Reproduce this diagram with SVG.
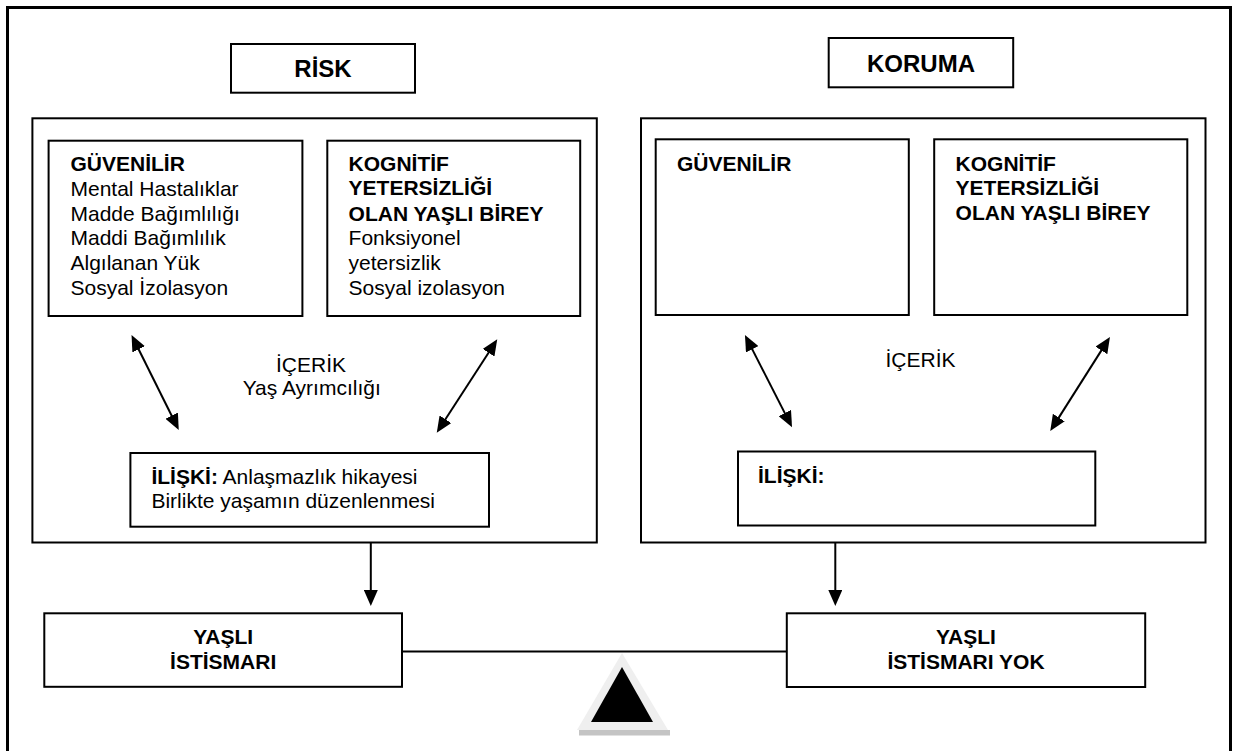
<svg xmlns="http://www.w3.org/2000/svg" width="1233" height="751" viewBox="0 0 1233 751">
<defs>
<style>
.box{fill:#fff;stroke:#000;stroke-width:2}
.frame{fill:none;stroke:#000;stroke-width:3}
.t{font-family:"Liberation Sans",Arial,sans-serif;font-size:21px;fill:#000}
.b{font-weight:bold}
.h{font-family:"Liberation Sans",Arial,sans-serif;font-size:24px;font-weight:bold;fill:#000}
.c{text-anchor:middle}
.ln{stroke:#000;stroke-width:2;fill:none}
</style>
<marker id="ah" viewBox="0 0 16 14" refX="6" refY="7" markerWidth="16" markerHeight="14" markerUnits="userSpaceOnUse" orient="auto-start-reverse">
<path d="M0,0 L16,7 L0,14 z" fill="#000"/>
</marker>
</defs>
<rect width="1233" height="751" fill="#fff"/>
<rect class="frame" x="7.5" y="7.5" width="1223" height="800"/>

<g id="risk-title">
<rect class="box" x="231" y="44" width="184" height="48.7"/>
<text class="h c" x="323" y="77">RİSK</text>
</g>
<g id="koruma-title">
<rect class="box" x="828.7" y="38" width="184.5" height="49.3"/>
<text class="h c" x="921" y="71.7">KORUMA</text>
</g>

<g id="risk-panel">
<rect class="box" x="32.4" y="118.3" width="564.4" height="424.2"/>
<text class="t c" x="311" y="371.7">İÇERİK</text>
<text class="t c" x="311.7" y="395">Yaş Ayrımcılığı</text>
</g>
<g id="koruma-panel">
<rect class="box" x="641" y="118.3" width="564.5" height="424.2"/>
<text class="t c" x="920.5" y="366.7">İÇERİK</text>
</g>

<g id="risk-caregiver">
<rect class="box" x="48.6" y="140.7" width="253.8" height="175.3"/>
<text class="t" x="70.5" y="170.7"><tspan class="b">GÜVENİLİR</tspan><tspan x="70.5" y="195.6">Mental Hastalıklar</tspan><tspan x="70.5" y="220.5">Madde Bağımlılığı</tspan><tspan x="70.5" y="245.4">Maddi Bağımlılık</tspan><tspan x="70.5" y="270.3">Algılanan Yük</tspan><tspan x="70.5" y="295.2">Sosyal İzolasyon</tspan></text>
</g>
<g id="risk-elder">
<rect class="box" x="327.3" y="140.7" width="252.9" height="175.3"/>
<text class="t" x="348.6" y="170.7"><tspan class="b">KOGNİTİF</tspan><tspan class="b" x="348.6" y="195.3">YETERSİZLİĞİ</tspan><tspan class="b" x="348.6" y="220.5">OLAN YAŞLI BİREY</tspan><tspan x="348.6" y="245.4">Fonksiyonel</tspan><tspan x="348.6" y="270.3">yetersizlik</tspan><tspan x="348.6" y="295.2">Sosyal izolasyon</tspan></text>
</g>
<g id="koruma-caregiver">
<rect class="box" x="655.7" y="139.3" width="253.1" height="175.7"/>
<text class="t b" x="677" y="170.7">GÜVENİLİR</text>
</g>
<g id="koruma-elder">
<rect class="box" x="934.2" y="139.3" width="253.1" height="175.7"/>
<text class="t b" x="955.6" y="170.7">KOGNİTİF<tspan x="955.6" y="195">YETERSİZLİĞİ</tspan><tspan x="955.6" y="220">OLAN YAŞLI BİREY</tspan></text>
</g>

<g id="risk-relation">
<rect class="box" x="130.4" y="453" width="358.6" height="73.7"/>
<text class="t" x="151.4" y="483.5"><tspan class="b">İLİŞKİ:</tspan> Anlaşmazlık hikayesi<tspan x="151.4" y="508">Birlikte yaşamın düzenlenmesi</tspan></text>
</g>
<g id="koruma-relation">
<rect class="box" x="738" y="451.5" width="357.3" height="74"/>
<text class="t b" x="758" y="483.3">İLİŞKİ:</text>
</g>

<g id="abuse">
<rect class="box" x="44.3" y="613.3" width="357.7" height="73.5"/>
<text class="t b c" x="223.2" y="644">YAŞLI<tspan x="223.2" y="669">İSTİSMARI</tspan></text>
</g>
<g id="no-abuse">
<rect class="box" x="786.8" y="613.3" width="358.4" height="73.7"/>
<text class="t b c" x="966" y="644">YAŞLI<tspan x="966" y="669">İSTİSMARI YOK</tspan></text>
</g>

<g id="fulcrum">
<rect x="579" y="730" width="91" height="5.5" fill="#c4c4c4"/>
<polygon points="622,653 577,730 668,730" fill="#efefef"/>
<polygon points="622,667 591,722 653,722" fill="#000"/>
</g>

<g id="connectors">
<line class="ln" x1="136" y1="344" x2="174.3" y2="421" marker-start="url(#ah)" marker-end="url(#ah)"/>
<line class="ln" x1="491.8" y1="347.7" x2="442.2" y2="424.3" marker-start="url(#ah)" marker-end="url(#ah)"/>
<line class="ln" x1="749.5" y1="343.9" x2="787.5" y2="418.4" marker-start="url(#ah)" marker-end="url(#ah)"/>
<line class="ln" x1="1104.6" y1="345.4" x2="1055.6" y2="422.6" marker-start="url(#ah)" marker-end="url(#ah)"/>
<line class="ln" x1="370.8" y1="542.5" x2="370.8" y2="596" marker-end="url(#ah)"/>
<line class="ln" x1="835.3" y1="542.5" x2="835.3" y2="596" marker-end="url(#ah)"/>
<line class="ln" x1="402" y1="651.5" x2="786.8" y2="651.5"/>
</g>
</svg>
